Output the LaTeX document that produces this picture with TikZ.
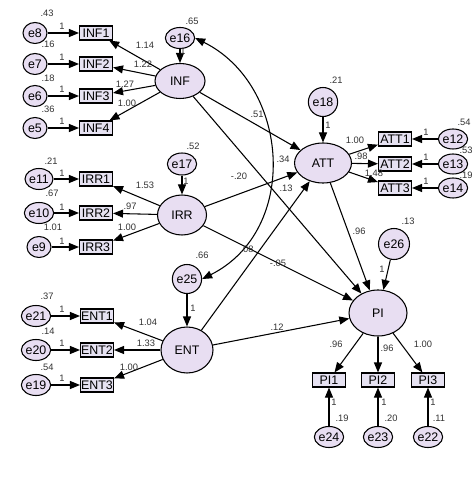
\documentclass[tikz,border=0pt]{standalone}
\usepackage{fontspec}
\setmainfont{Liberation Sans}
\usetikzlibrary{shapes.geometric,arrows.meta}
\definecolor{lav}{HTML}{E8DEF2}
\definecolor{boxf}{HTML}{E6E2F2}
\definecolor{txt}{HTML}{333333}
\tikzset{
  obs/.style={draw, line width=0.8pt, fill=boxf, inner sep=0pt, minimum width=33*0.75pt, minimum height=14*0.75pt, font=\fontsize{9.3}{10}\selectfont},
  lat/.style={ellipse, draw, line width=0.8pt, fill=lav, inner sep=0pt, font=\fontsize{9.3}{10}\selectfont},
  err/.style={ellipse, draw, line width=0.8pt, fill=lav, inner sep=0pt, font=\fontsize{9.3}{10}\selectfont},
  arr/.style={line width=0.8pt, -{Triangle[length=7.5pt,width=6pt]}},
  darr/.style={line width=0.8pt, {Triangle[length=7.5pt,width=6pt]}-{Triangle[length=7.5pt,width=6pt]}},
  lbl/.style={font=\fontsize{7}{8}\selectfont, text=txt, inner sep=0pt}
}
\begin{document}
\begin{tikzpicture}[x=0.75pt,y=-0.75pt]
\useasboundingbox (0,0) rectangle (474,484);
\fill[white] (0,0) rectangle (474,484);
% INF block
\foreach \n/\y in {8/33,7/64,6/96,5/128}{\node[err, minimum width=24*0.75pt, minimum height=21*0.75pt] (e\n) at (35,\y) {e\n};}
\node[obs] (INF1) at (96,33) {INF1};
\node[obs] (INF2) at (96,64) {INF2};
\node[obs] (INF3) at (96,96) {INF3};
\node[obs] (INF4) at (96,128) {INF4};
\node[lat, minimum width=50*0.75pt, minimum height=35*0.75pt] (INF) at (180,81) {INF};
\node[err, minimum width=21*0.75pt, minimum height=21*0.75pt] (e16) at (180,38) {e16};
% IRR block
\foreach \n/\y in {11/179,10/213,9/247}{\node[err, minimum width=24*0.75pt, minimum height=21*0.75pt] (e\n) at (39,\y) {e\n};}
\node[obs] (IRR1) at (96,179) {IRR1};
\node[obs] (IRR2) at (96,213) {IRR2};
\node[obs] (IRR3) at (96,247) {IRR3};
\node[lat, minimum width=49*0.75pt, minimum height=40*0.75pt] (IRR) at (182,215) {IRR};
\node[err, minimum width=22*0.75pt, minimum height=22*0.75pt] (e17) at (182,164) {e17};
% ENT block
\foreach \n/\y in {21/316,20/350,19/385}{\node[err, minimum width=24*0.75pt, minimum height=21*0.75pt] (e\n) at (36,\y) {e\n};}
\node[obs] (ENT1) at (97,316) {ENT1};
\node[obs] (ENT2) at (97,350) {ENT2};
\node[obs] (ENT3) at (97,385) {ENT3};
\node[lat, minimum width=52*0.75pt, minimum height=46*0.75pt] (ENT) at (187,350) {ENT};
\node[err, minimum width=29*0.75pt, minimum height=29*0.75pt] (e25) at (187,279) {e25};
% ATT block
\node[lat, minimum width=57*0.75pt, minimum height=40*0.75pt] (ATT) at (323,163) {ATT};
\node[err, minimum width=29*0.75pt, minimum height=29*0.75pt] (e18) at (323,102) {e18};
\node[obs] (ATT1) at (395,139) {ATT1};
\node[obs] (ATT2) at (395,164) {ATT2};
\node[obs] (ATT3) at (395,188) {ATT3};
\foreach \n/\y in {12/139,13/164,14/188}{\node[err, minimum width=20*0.75pt, minimum height=20*0.75pt] (e\n) at (453,\y) {e\n};}
% PI block
\node[lat, minimum width=58*0.75pt, minimum height=46*0.75pt] (PI) at (378,313) {PI};
\node[err, minimum width=31*0.75pt, minimum height=31*0.75pt] (e26) at (394,244) {e26};
\node[obs] (PI1) at (329,380) {PI1};
\node[obs] (PI2) at (378,380) {PI2};
\node[obs] (PI3) at (428,380) {PI3};
\node[err, minimum width=28*0.75pt, minimum height=21*0.75pt] (e24) at (329,437) {e24};
\node[err, minimum width=28*0.75pt, minimum height=21*0.75pt] (e23) at (378,437) {e23};
\node[err, minimum width=28*0.75pt, minimum height=21*0.75pt] (e22) at (428,437) {e22};
% connectors
\foreach \e/\b in {e8/INF1,e7/INF2,e6/INF3,e5/INF4,e11/IRR1,e10/IRR2,e9/IRR3,e21/ENT1,e20/ENT2,e19/ENT3,e12/ATT1,e13/ATT2,e14/ATT3,e24/PI1,e23/PI2,e22/PI3}{\draw[arr] (\e) -- (\b);}
\foreach \b in {INF1,INF2,INF3,INF4}{\draw[arr] (INF) -- (\b);}
\foreach \b in {IRR1,IRR2,IRR3}{\draw[arr] (IRR) -- (\b);}
\foreach \b in {ENT1,ENT2,ENT3}{\draw[arr] (ENT) -- (\b);}
\foreach \b in {ATT1,ATT2,ATT3}{\draw[arr] (ATT) -- (\b);}
\foreach \b in {PI1,PI2,PI3}{\draw[arr] (PI) -- (\b);}
\draw[arr] (e16) -- (INF);
\draw[arr] (e17) -- (IRR);
\draw[arr] (e25) -- (ENT);
\draw[arr] (e18) -- (ATT);
\draw[arr] (e26) -- (PI);
\draw[arr] (INF) -- (ATT);
\draw[arr] (INF) -- (PI);
\draw[arr] (IRR) -- (ATT);
\draw[arr] (IRR) -- (PI);
\draw[arr] (ENT) -- (ATT);
\draw[arr] (ENT) -- (PI);
\draw[arr] (ATT) -- (PI);
\draw[darr] (e16.east) .. controls (290,85) and (300,230) .. (e25.east);
% labels: regression weights
\node[lbl] (l1) at (145,45) {1.14};
\node[lbl] (l2) at (143,64) {1.22};
\node[lbl] (l3) at (125,84) {1.27};
\node[lbl] (l4) at (127,103) {1.00};
\node[lbl] (l5) at (145,185) {1.53};
\node[lbl] (l6) at (130,206) {.97};
\node[lbl] (l7) at (127,227) {1.00};
\node[lbl] (l8) at (148,322) {1.04};
\node[lbl] (l9) at (146,343) {1.33};
\node[lbl] (l10) at (129,367) {1.00};
\node[lbl] (l11) at (355,140) {1.00};
\node[lbl] (l12) at (361,156) {.98};
\node[lbl] (l13) at (374,173) {1.48};
\node[lbl] (l14) at (283,159) {.34};
\node[lbl] (l15) at (239,176) {-.20};
\node[lbl] (l16) at (286,188) {.13};
\node[lbl] (l17) at (257,114) {.51};
\node[lbl] (l18) at (247,249) {.08};
\node[lbl] (l19) at (278,263) {-.05};
\node[lbl] (l20) at (277,327) {.12};
\node[lbl] (l21) at (359,231) {.96};
\node[lbl] (l22) at (336,344) {.96};
\node[lbl] (l23) at (387,348) {.96};
\node[lbl] (l24) at (423,344) {1.00};
% variances
\node[lbl] (v8) at (47,13) {.43};
\node[lbl] (v7) at (48,44) {.16};
\node[lbl] (v6) at (48,78) {.18};
\node[lbl] (v5) at (48,109) {.36};
\node[lbl] (v11) at (51,161) {.21};
\node[lbl] (v10) at (52,193) {.67};
\node[lbl] (v9) at (53,227) {1.01};
\node[lbl] (v21) at (47,296) {.37};
\node[lbl] (v20) at (48,331) {.14};
\node[lbl] (v19) at (47,367) {.54};
\node[lbl] (v16) at (192,21) {.65};
\node[lbl] (v17) at (193,146) {.52};
\node[lbl] (v25) at (202,255) {.66};
\node[lbl] (v18) at (336,80) {.21};
\node[lbl] (v26) at (408,221) {.13};
\node[lbl] (v12) at (464,122) {.54};
\node[lbl] (v13) at (466,150) {.53};
\node[lbl] (v14) at (466,175) {.19};
\node[lbl] (v24) at (342,418) {.19};
\node[lbl] (v23) at (391,418) {.20};
\node[lbl] (v22) at (439,418) {.11};
% unit loadings
\foreach \y [count=\i] in {26,57,89,121,173,207,241,309,343,378}{\node[lbl] (o\i) at (62,\y) {1};}
\foreach \y [count=\i] in {132,157,181}{\node[lbl] (r\i) at (426,\y) {1};}
\node[lbl] (u16) at (183,51) {1};
\node[lbl] (u17) at (186,181) {1};
\node[lbl] (u25) at (193,308) {1};
\node[lbl] (u18) at (328,125) {1};
\node[lbl] (u26) at (382,269) {1};
\node[lbl] (p1) at (334,402) {1};
\node[lbl] (p2) at (384,402) {1};
\node[lbl] (p3) at (433,402) {1};
\end{tikzpicture}
\end{document}
